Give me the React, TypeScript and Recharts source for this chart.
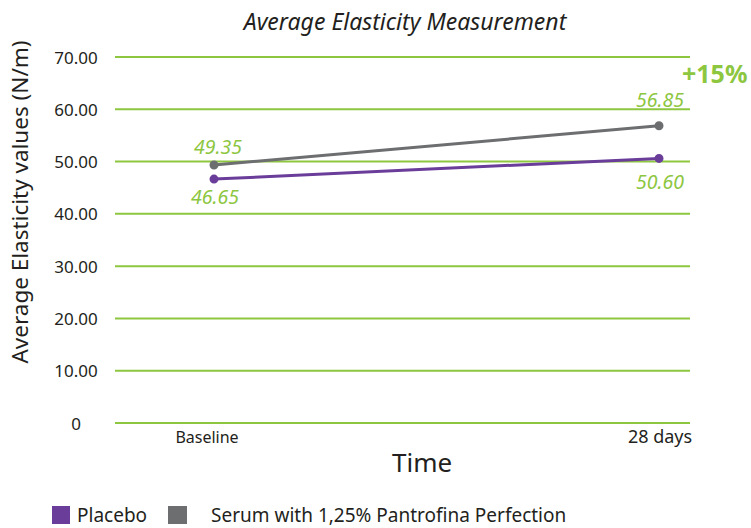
import { LineChart, Line, XAxis, YAxis, CartesianGrid, LabelList } from "recharts";

const times = ["Baseline", "28 days"];
const placebo = [46.65, 50.6];
const serum = [49.35, 56.85];
const yTicks = [0, 10, 20, 30, 40, 50, 60, 70];

const data = times.map((t, i) => ({ time: t, placebo: placebo[i], serum: serum[i] }));

const GREEN = "#8dc63f";
const PURPLE = "#6a3d9a";
const GRAY = "#6d6e70";
const FONT = "'Noto Sans', sans-serif";

const YTick = (props: any) => (
  <text
    x={76}
    y={props.y}
    textAnchor="middle"
    dominantBaseline="central"
    fontFamily={FONT}
    fontSize={17}
    fill="#231f20"
  >
    {props.payload.value === 0 ? "0" : props.payload.value.toFixed(2)}
  </text>
);

const XTick = (props: any) => {
  const first = props.index === 0;
  return (
    <text
      x={props.x + (first ? -7 : 1)}
      y={props.y + 12}
      textAnchor="middle"
      fontFamily={FONT}
      fontSize={first ? 16 : 18}
      fill="#231f20"
    >
      {props.payload.value}
    </text>
  );
};

const makeLabel = (offsets: number[][]) => (props: any) => {
  const o = offsets[props.index];
  return (
    <text
      x={props.x + o[0]}
      y={props.y + o[1]}
      textAnchor="middle"
      fontFamily={FONT}
      fontStyle="italic"
      fontSize={19.5}
      fill={GREEN}
    >
      {Number(props.value).toFixed(2)}
    </text>
  );
};

const YLabel = () => (
  <text
    transform="translate(19,202) rotate(-90)"
    textAnchor="middle"
    dominantBaseline="central"
    fontFamily={FONT}
    fontSize={22.5}
    fill="#231f20"
  >
    Average Elasticity values (N/m)
  </text>
);

export default function App() {
  return (
    <div style={{ position: "absolute", left: 0, top: 0, width: 751, height: 528, background: "#fff", fontFamily: FONT }}>
      <div
        style={{
          position: "absolute",
          left: 0,
          width: 810,
          top: 5,
          textAlign: "center",
          fontStyle: "italic",
          fontSize: 23,
          color: "#231f20",
        }}
      >
        Average Elasticity Measurement
      </div>
      <LineChart width={751} height={528} data={data} margin={{ top: 57, right: 61, bottom: 65, left: 0 }}>
        <CartesianGrid vertical={false} stroke={GREEN} strokeWidth={2} />
        <XAxis
          dataKey="time"
          axisLine={false}
          tickLine={false}
          height={40}
          padding={{ left: 99, right: 31 }}
          tick={<XTick />}
          interval={0}
        />
        <YAxis
          width={115}
          domain={[0, 70]}
          ticks={yTicks}
          axisLine={false}
          tickLine={false}
          tick={<YTick />}
          label={<YLabel />}
        />
        <Line
          dataKey="serum"
          stroke={GRAY}
          strokeWidth={3}
          dot={{ r: 3, fill: GRAY, stroke: GRAY }}
          isAnimationActive={false}
        >
          <LabelList dataKey="serum" content={makeLabel([[4, -11], [1, -19]])} />
        </Line>
        <Line
          dataKey="placebo"
          stroke={PURPLE}
          strokeWidth={3}
          dot={{ r: 3, fill: PURPLE, stroke: PURPLE }}
          isAnimationActive={false}
        >
          <LabelList dataKey="placebo" content={makeLabel([[1, 25], [1, 31]])} />
        </Line>
      </LineChart>
      <div
        style={{
          position: "absolute",
          left: 682,
          top: 56,
          fontWeight: "bold",
          fontSize: 25,
          color: GREEN,
        }}
      >
        +15%
      </div>
      <div
        style={{
          position: "absolute",
          left: 392,
          top: 444,
          fontSize: 26,
          color: "#231f20",
        }}
      >
        Time
      </div>
      <div
        style={{
          position: "absolute",
          left: 52,
          top: 502,
          display: "flex",
          alignItems: "center",
          fontSize: 19,
          color: "#231f20",
          whiteSpace: "nowrap",
        }}
      >
        <span style={{ width: 18, height: 18, background: PURPLE, display: "inline-block" }} />
        <span style={{ marginLeft: 7 }}>Placebo</span>
        <span style={{ width: 19, height: 18, background: GRAY, display: "inline-block", marginLeft: 21 }} />
        <span style={{ marginLeft: 24 }}>Serum with 1,25% Pantrofina Perfection</span>
      </div>
    </div>
  );
}
